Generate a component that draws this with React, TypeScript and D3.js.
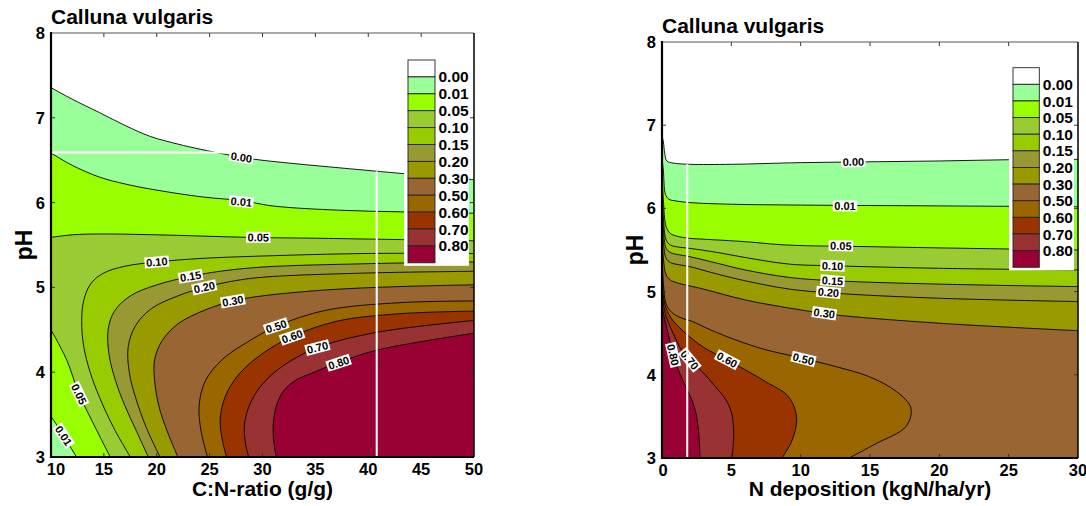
import React, { useEffect, useRef } from "react";
import * as d3 from "d3";

type Pt = [number, number];

// contour levels and the band colours between them (legend order, top to bottom)
const levelLabels = ["0.00", "0.01", "0.05", "0.10", "0.15", "0.20", "0.30", "0.50", "0.60", "0.70", "0.80"];
const bandColors = ["#ffffff", "#99ff99", "#99ff00", "#99cc33", "#99cc00", "#999933", "#999900", "#996633", "#996600", "#993300", "#993333", "#990033"];

const phTicks = [3, 4, 5, 6, 7, 8];
const cnTicks = [10, 15, 20, 25, 30, 35, 40, 45, 50];
const ndTicks = [0, 5, 10, 15, 20, 25, 30];

// ---- left panel: C:N ratio vs pH, contour lines as [C:N, pH]
const cn000: Pt[] = [[10, 7.355], [12, 7.22], [14.6, 7.06], [17, 6.91], [19.4, 6.78], [22, 6.69], [24.1, 6.63], [26.9, 6.56], [29.3, 6.51], [33, 6.46], [37.3, 6.41], [40.8, 6.37], [43.5, 6.34], [50, 6.27]];
const cn001: Pt[] = [[10, 6.585], [12, 6.44], [14.6, 6.3], [17, 6.22], [19.4, 6.16], [24.1, 6.07], [28.2, 6.02], [31, 5.96], [37.3, 5.91], [43.5, 5.89], [50, 5.875]];
const cn005: Pt[] = [[10, 5.59], [12, 5.62], [14.6, 5.63], [20, 5.62], [28.8, 5.59], [35, 5.58], [40, 5.57], [50, 5.55]];
const cn005low: Pt[] = [[10, 4.5], [11.5, 4.14], [12.6, 3.76], [14.3, 3.32], [15.6, 3.0]];
const cn001low: Pt[] = [[10, 3.48], [11.2, 3.25], [12.4, 3.0]];
const cn010: Pt[] = [[50, 5.4], [40, 5.4], [30, 5.37], [24, 5.34], [20, 5.3], [17, 5.25], [15, 5.17], [13.8, 5.05], [13.1, 4.85], [12.9, 4.6], [13.1, 4.3], [13.7, 4.0], [14.6, 3.7], [15.9, 3.35], [17.5, 3.0]];
const cn015: Pt[] = [[50, 5.3], [40, 5.28], [30, 5.24], [26, 5.19], [23.2, 5.13], [20, 5.03], [17.5, 4.9], [16, 4.72], [15.4, 4.5], [15.5, 4.2], [16.1, 3.9], [17.0, 3.6], [18.1, 3.3], [19.2, 3.0]];
const cn020: Pt[] = [[50, 5.19], [40, 5.17], [30, 5.12], [27, 5.07], [24.5, 5.0], [22, 4.9], [19.5, 4.75], [18, 4.55], [17.3, 4.3], [17.4, 4.0], [18.0, 3.7], [19.0, 3.35], [20.3, 3.0]];
const cn030: Pt[] = [[50, 5.03], [43, 5.01], [36, 4.97], [30, 4.9], [27.2, 4.84], [24.5, 4.73], [22, 4.57], [20.5, 4.37], [19.8, 4.15], [19.8, 3.9], [20.2, 3.6], [21.0, 3.3], [22.0, 3.0]];
const cn050: Pt[] = [[50, 4.84], [43, 4.82], [36, 4.73], [31.3, 4.54], [28.5, 4.35], [26.2, 4.15], [24.6, 3.9], [24.0, 3.6], [24.2, 3.3], [24.8, 3.0]];
const cn060: Pt[] = [[50, 4.72], [43, 4.69], [37, 4.6], [32.8, 4.42], [30, 4.22], [27.8, 3.98], [26.5, 3.72], [26.0, 3.45], [26.2, 3.2], [26.6, 3.0]];
const cn070: Pt[] = [[50, 4.61], [40.8, 4.47], [35.2, 4.29], [32, 4.08], [30, 3.86], [28.8, 3.62], [28.3, 3.38], [28.4, 3.15], [28.7, 3.0]];
const cn080: Pt[] = [[50, 4.46], [40.8, 4.26], [37.1, 4.11], [34.5, 3.98], [33.2, 3.91], [32, 3.78], [31.3, 3.6], [31.0, 3.35], [31.1, 3.15], [31.3, 3.0]];
// contour labels: [level index, C:N, pH]
const cnLabelPos: [number, number, number][] = [[0, 28.0, 6.535], [1, 28.0, 6.01], [2, 29.6, 5.59], [3, 20.0, 5.3], [4, 23.2, 5.13], [5, 24.5, 5.0], [6, 27.2, 4.84], [7, 31.3, 4.54], [8, 32.8, 4.42], [9, 35.2, 4.29], [10, 37.2, 4.11], [2, 12.65, 3.74], [1, 11.2, 3.25]];
// critical values (white lines)
const critPH = 6.59;
const critPHEndCN = 26.9;
const critCN = 40.8;
const critCNTopPH = 6.37;

// ---- right panel: N deposition vs pH, [kgN/ha/yr, pH]
const nd000: Pt[] = [[0, 6.87], [0.1, 6.8], [0.2, 6.66], [0.35, 6.57], [0.8, 6.545], [2, 6.53], [5, 6.53], [10, 6.55], [15, 6.56], [20, 6.57], [25, 6.585], [30, 6.59]];
const nd001: Pt[] = [[0, 6.6], [0.1, 6.45], [0.25, 6.17], [0.5, 6.11], [1, 6.09], [2, 6.07], [5, 6.05], [10, 6.04], [20, 6.03], [30, 6.02]];
const nd005: Pt[] = [[0, 6.45], [0.1, 6.1], [0.3, 5.78], [0.6, 5.7], [1, 5.67], [2, 5.64], [3, 5.63], [6, 5.6], [9, 5.56], [15, 5.54], [22, 5.52], [30, 5.5]];
const nd010: Pt[] = [[0, 6.3], [0.1, 5.9], [0.3, 5.62], [0.6, 5.56], [1, 5.54], [2, 5.52], [4, 5.47], [6, 5.41], [9.2, 5.33], [12.5, 5.31], [20, 5.28], [30, 5.26]];
const nd015: Pt[] = [[0, 6.15], [0.1, 5.75], [0.3, 5.52], [0.6, 5.47], [1, 5.45], [2, 5.42], [4, 5.34], [6, 5.26], [9.2, 5.17], [12.5, 5.13], [20, 5.09], [30, 5.06]];
const nd020: Pt[] = [[0, 6.0], [0.1, 5.6], [0.3, 5.4], [0.6, 5.35], [1, 5.33], [2, 5.3], [4, 5.21], [6, 5.13], [9.2, 5.03], [12.5, 4.98], [20, 4.92], [30, 4.88]];
const nd030: Pt[] = [[0, 5.8], [0.1, 5.4], [0.3, 5.2], [0.6, 5.14], [1, 5.11], [3, 5.03], [6, 4.9], [10, 4.78], [12.5, 4.72], [20, 4.62], [30, 4.53]];
const nd050: Pt[] = [[0, 5.5], [0.1, 5.1], [0.3, 4.85], [0.7, 4.75], [1.3, 4.69], [2.2, 4.64], [3.5, 4.54], [5.3, 4.42], [7.5, 4.3], [9.6, 4.22], [12.5, 4.1], [14.9, 3.98], [16.9, 3.8], [17.95, 3.6], [17.6, 3.38], [15.4, 3.17], [13.5, 3.0]];
const nd060: Pt[] = [[0, 5.3], [0.1, 4.95], [0.3, 4.8], [0.8, 4.65], [1.7, 4.5], [3, 4.33], [4.7, 4.18], [6, 4.06], [7.45, 3.92], [9.1, 3.74], [9.7, 3.5], [9.4, 3.22], [8.65, 3.0]];
const nd070: Pt[] = [[0, 5.1], [0.1, 4.85], [0.3, 4.7], [0.8, 4.5], [1.4, 4.3], [2.0, 4.18], [3.0, 4.02], [3.84, 3.86], [4.6, 3.7], [5.0, 3.55], [5.17, 3.3], [5.05, 3.0]];
const nd080: Pt[] = [[0, 4.85], [0.1, 4.74], [0.3, 4.6], [0.55, 4.42], [0.8, 4.24], [1.2, 4.05], [1.7, 3.86], [2.15, 3.7], [2.45, 3.54], [2.65, 3.3], [2.75, 3.0]];
const ndLabelPos: [number, number, number][] = [[0, 13.8, 6.56], [1, 13.2, 6.03], [2, 12.9, 5.55], [3, 12.3, 5.31], [4, 12.3, 5.13], [5, 12.0, 4.99], [6, 11.7, 4.74], [7, 10.2, 4.19], [8, 4.7, 4.18], [9, 2.0, 4.18], [10, 0.8, 4.24]];
const critND = 1.82;
const critNDTopPH = 6.53;

const font = "'Liberation Sans', Arial, sans-serif";

const leftPanel = {
  id: "cn",
  left: 51, right: 474, top: 33, bottom: 457,
  xDomain: [10, 50], xTicks: cnTicks, firstTickShift: 5,
  xLabel: "C:N-ratio (g/g)",
  regions: [
    { pts: cn000, band: 1, close: [[50, 3], [10, 3]] },
    { pts: cn001, band: 2, close: [[50, 3], [10, 3]] },
    { pts: cn005, band: 3, close: [[50, 3], [10, 3]] },
    { pts: cn005low, band: 2, close: [[10, 3]] },
    { pts: cn001low, band: 1, close: [[10, 3]] },
    { pts: cn010, band: 4, close: [[50, 3]] },
    { pts: cn015, band: 5, close: [[50, 3]] },
    { pts: cn020, band: 6, close: [[50, 3]] },
    { pts: cn030, band: 7, close: [[50, 3]] },
    { pts: cn050, band: 8, close: [[50, 3]] },
    { pts: cn060, band: 9, close: [[50, 3]] },
    { pts: cn070, band: 10, close: [[50, 3]] },
    { pts: cn080, band: 11, close: [[50, 3]] },
  ],
  labels: cnLabelPos,
  whiteLines: [[[10, critPH], [critPHEndCN, critPH]], [[critCN, 3], [critCN, critCNTopPH]]],
  legend: { x: 408, y: 60, w: 27, h: 16.9 },
};

const rightPanel = {
  id: "nd",
  left: 662, right: 1078, top: 42, bottom: 458,
  xDomain: [0, 30], xTicks: ndTicks, firstTickShift: 1,
  xLabel: "N deposition (kgN/ha/yr)",
  regions: [
    { pts: nd000, band: 1, close: [[30, 3], [0, 3]] },
    { pts: nd001, band: 2, close: [[30, 3], [0, 3]] },
    { pts: nd005, band: 3, close: [[30, 3], [0, 3]] },
    { pts: nd010, band: 4, close: [[30, 3], [0, 3]] },
    { pts: nd015, band: 5, close: [[30, 3], [0, 3]] },
    { pts: nd020, band: 6, close: [[30, 3], [0, 3]] },
    { pts: nd030, band: 7, close: [[30, 3], [0, 3]] },
    { pts: nd050, band: 8, close: [[0, 3]] },
    { pts: nd060, band: 9, close: [[0, 3]] },
    { pts: nd070, band: 10, close: [[0, 3]] },
    { pts: nd080, band: 11, close: [[0, 3]] },
  ],
  labels: ndLabelPos,
  whiteLines: [[[critND, 3], [critND, critNDTopPH]]],
  legend: { x: 1013, y: 67.7, w: 26.3, h: 16.63 },
};

function drawPanel(svg: any, p: any) {
  const x = d3.scaleLinear().domain(p.xDomain).range([p.left, p.right]);
  const y = d3.scaleLinear().domain([3, 8]).range([p.bottom, p.top]);
  const curve = d3.line<Pt>()
    .x(d => x(d[0]))
    .y(d => y(d[1]))
    .curve(d3.curveCatmullRom.alpha(0.5));

  const g = svg.append("g");
  const clipId = "clip-" + p.id;
  g.append("clipPath").attr("id", clipId)
    .append("rect")
    .attr("x", p.left).attr("y", p.top)
    .attr("width", p.right - p.left).attr("height", p.bottom - p.top);

  const plot = g.append("g").attr("clip-path", `url(#${clipId})`);
  plot.append("rect")
    .attr("x", p.left).attr("y", p.top)
    .attr("width", p.right - p.left).attr("height", p.bottom - p.top)
    .attr("fill", "#fff");

  // filled bands, painted from the lowest level upward
  p.regions.forEach((r: any) => {
    const d = curve(r.pts) + r.close.map((c: Pt) => `L${x(c[0])},${y(c[1])}`).join("") + "Z";
    plot.append("path").attr("d", d).attr("fill", bandColors[r.band]);
  });
  p.regions.forEach((r: any) => {
    plot.append("path").attr("d", curve(r.pts))
      .attr("fill", "none").attr("stroke", "#000").attr("stroke-width", 0.9);
  });

  // contour labels, turned along the nearest line
  const segs: [Pt, Pt][] = [];
  p.regions.forEach((r: any) => r.pts.slice(1).forEach((q: Pt, i: number) => segs.push([r.pts[i], q])));
  p.labels.forEach(([lev, lx, ly]: [number, number, number]) => {
    const px = x(lx), py = y(ly);
    let best: number[] = [1, 0], bd = Infinity;
    segs.forEach(([a, b]) => {
      const ax = x(a[0]), ay = y(a[1]), dx = x(b[0]) - ax, dy = y(b[1]) - ay;
      const L = dx * dx + dy * dy || 1;
      const t = Math.max(0, Math.min(1, ((px - ax) * dx + (py - ay) * dy) / L));
      const dist = Math.hypot(ax + t * dx - px, ay + t * dy - py);
      if (dist < bd) { bd = dist; best = [dx, dy]; }
    });
    let ang = Math.atan2(best[1], best[0]) * 180 / Math.PI;
    if (ang > 90) ang -= 180;
    if (ang < -90) ang += 180;
    const lg = plot.append("g").attr("transform", `translate(${px},${py}) rotate(${ang})`);
    const t = lg.append("text").text(levelLabels[lev])
      .attr("text-anchor", "middle").attr("dy", "0.36em")
      .attr("font-size", 11).attr("font-weight", "bold").attr("fill", "#000");
    const bb = t.node().getBBox();
    lg.insert("rect", "text")
      .attr("x", bb.x - 1.5).attr("y", bb.y + 0.5)
      .attr("width", bb.width + 3).attr("height", bb.height - 1)
      .attr("fill", "#fff");
  });

  // critical value lines
  p.whiteLines.forEach((l: Pt[]) => {
    plot.append("line")
      .attr("x1", x(l[0][0])).attr("y1", y(l[0][1]))
      .attr("x2", x(l[1][0])).attr("y2", y(l[1][1]))
      .attr("stroke", "#fff").attr("stroke-width", 2);
  });

  // legend
  const L = p.legend;
  const leg = g.append("g");
  leg.append("rect")
    .attr("x", L.x - 4).attr("y", L.y - 4)
    .attr("width", 65).attr("height", bandColors.length * L.h + 7)
    .attr("fill", "#fff");
  bandColors.forEach((c, i) => {
    leg.append("rect")
      .attr("x", L.x).attr("y", L.y + i * L.h)
      .attr("width", L.w).attr("height", L.h)
      .attr("fill", c).attr("stroke", "#222").attr("stroke-width", 0.9);
  });
  levelLabels.forEach((t, i) => {
    leg.append("text").text(t)
      .attr("x", L.x + L.w + 3.5).attr("y", L.y + (i + 1) * L.h)
      .attr("dy", "0.36em")
      .attr("font-size", 15.5).attr("font-weight", "bold");
  });

  // frame and inward ticks
  const ax = g.append("g");
  p.xTicks.slice(1, -1).forEach((v: number) => {
    ax.append("line").attr("x1", x(v)).attr("x2", x(v)).attr("y1", p.top).attr("y2", p.top + 4).attr("stroke", "#333");
    ax.append("line").attr("x1", x(v)).attr("x2", x(v)).attr("y1", p.bottom).attr("y2", p.bottom - 4).attr("stroke", "#333");
  });
  phTicks.slice(1, -1).forEach(v => {
    ax.append("line").attr("y1", y(v)).attr("y2", y(v)).attr("x1", p.right).attr("x2", p.right - 4).attr("stroke", "#333");
    ax.append("line").attr("y1", y(v)).attr("y2", y(v)).attr("x1", p.left).attr("x2", p.left + 4).attr("stroke", "#333");
  });
  ax.append("line").attr("x1", p.left).attr("x2", p.right).attr("y1", p.top).attr("y2", p.top).attr("stroke", "#555").attr("stroke-width", 1.2);
  ax.append("line").attr("x1", p.right).attr("x2", p.right).attr("y1", p.top).attr("y2", p.bottom).attr("stroke", "#000").attr("stroke-width", 1.5);
  ax.append("line").attr("x1", p.left).attr("x2", p.right).attr("y1", p.bottom).attr("y2", p.bottom).attr("stroke", "#000").attr("stroke-width", 2);
  ax.append("line").attr("x1", p.left).attr("x2", p.left).attr("y1", p.top - 1).attr("y2", p.bottom + 1).attr("stroke", "#000").attr("stroke-width", 2.2);

  p.xTicks.forEach((v: number, i: number) => {
    ax.append("text").text(v)
      .attr("x", x(v) + (i === 0 ? p.firstTickShift : 0)).attr("y", p.bottom + 12).attr("dy", "0.36em")
      .attr("text-anchor", "middle").attr("font-size", 16.5).attr("font-weight", "bold");
  });
  phTicks.forEach(v => {
    ax.append("text").text(v)
      .attr("x", p.left - 6).attr("y", y(v)).attr("dy", "0.36em")
      .attr("text-anchor", "end").attr("font-size", 16.5).attr("font-weight", "bold");
  });

  ax.append("text").text("Calluna vulgaris")
    .attr("x", p.left).attr("y", p.top - 9)
    .attr("font-size", 21).attr("font-weight", "bold");
  ax.append("text").text(p.xLabel)
    .attr("x", (p.left + p.right) / 2).attr("y", 496)
    .attr("text-anchor", "middle").attr("font-size", 21).attr("font-weight", "bold");
  ax.append("text").text("pH")
    .attr("transform", `translate(${p.left - 19},${(p.top + p.bottom) / 2}) rotate(-90)`)
    .attr("text-anchor", "middle").attr("font-size", 23).attr("font-weight", "bold");
}

export default function App() {
  const svgRef = useRef<SVGSVGElement>(null);

  useEffect(() => {
    const svg = d3.select(svgRef.current);
    svg.selectAll("*").remove();
    drawPanel(svg, leftPanel);
    drawPanel(svg, rightPanel);
  }, []);

  return (
    <svg
      ref={svgRef}
      width={1086}
      height={506}
      style={{ position: "absolute", left: 0, top: 0, fontFamily: font, background: "#fff" }}
    />
  );
}
